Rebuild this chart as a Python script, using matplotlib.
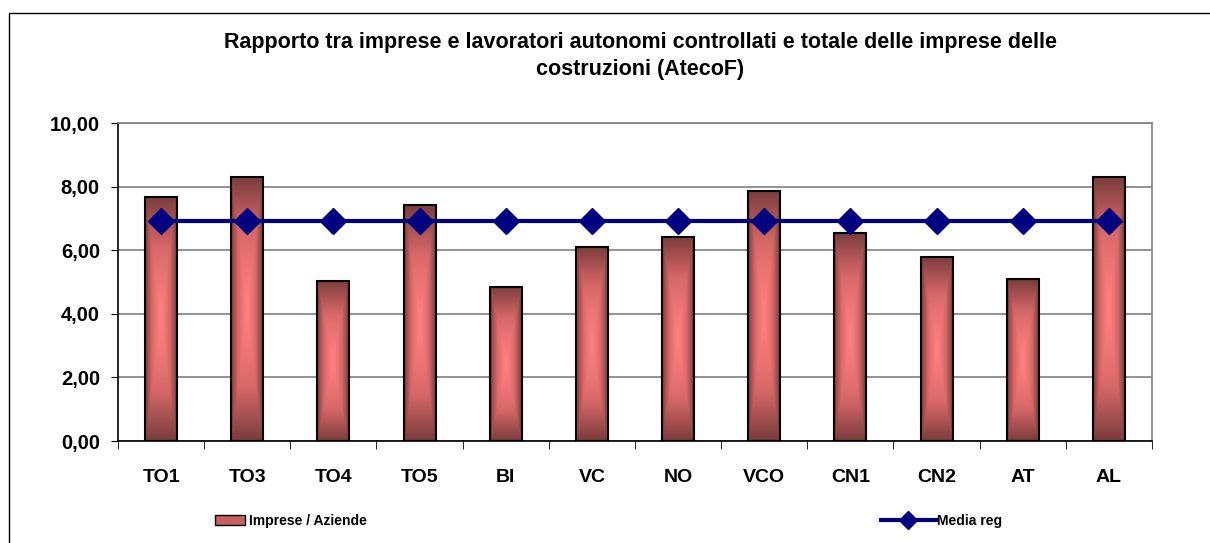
import numpy as np
import matplotlib.pyplot as plt
from matplotlib.patches import Rectangle
from matplotlib.lines import Line2D
from matplotlib.colors import LinearSegmentedColormap

plt.rcParams['font.family'] = ['Liberation Sans', 'DejaVu Sans']

# -----------------------------
# Data
# -----------------------------
categories = ["TO1", "TO3", "TO4", "TO5", "BI", "VC", "NO", "VCO", "CN1", "CN2", "AT", "AL"]
imprese = [7.68, 8.31, 5.04, 7.42, 4.85, 6.11, 6.43, 7.87, 6.55, 5.80, 5.09, 8.31]
media_reg = [6.93] * len(categories)

title = "Rapporto tra imprese e lavoratori autonomi controllati e totale delle imprese delle\ncostruzioni (AtecoF)"
y_ticks = [0, 2, 4, 6, 8, 10]

# -----------------------------
# Figure
# -----------------------------
fig = plt.figure(figsize=(12.1, 5.43), dpi=100)
ax = fig.add_axes([118 / 1210, 1 - 441 / 543, 1034 / 1210, 318 / 543])

# outer chart frame
fig.patches.append(Rectangle((9 / 1210, -0.1), 1.2, 1 - 13 / 543 + 0.1,
                             transform=fig.transFigure, fill=False,
                             edgecolor="black", linewidth=1.0))

x = np.arange(len(categories))
bar_w = 0.37

# gradient bars: dark edges, pink centre
cmap = LinearSegmentedColormap.from_list("bar", ["#ff8080", "#d86868", "#7a3c3c"])
u = np.linspace(-1, 1, 60)
v = np.linspace(-1, 1, 200)
U, V = np.meshgrid(u, v)
grad = np.maximum(np.abs(U) ** 1.2, np.abs(V) ** 1.3)

bars = ax.bar(x, imprese, width=bar_w, color="none", edgecolor="black",
              linewidth=1.5, zorder=3)
for b in bars:
    x0, y0 = b.get_x(), b.get_y()
    w, h = b.get_width(), b.get_height()
    ax.imshow(grad, cmap=cmap, extent=[x0, x0 + w, y0, y0 + h],
              aspect="auto", origin="lower", zorder=2, vmin=0, vmax=1)

ax.plot(x, media_reg, color="#000080", linewidth=3, marker="D", markersize=13,
        zorder=4)

ax.set_xlim(-0.5, len(categories) - 0.5)
ax.set_ylim(0, 10)
ax.set_yticks(y_ticks)
ax.set_yticklabels([f"{t:.2f}".replace(".", ",") for t in y_ticks],
                   fontsize=14.5, fontweight="bold")
ax.set_xticks(x)
ax.set_xticklabels(categories, fontsize=14, fontweight="bold")
ax.tick_params(axis="x", length=0, pad=20)
ax.set_xticks(np.arange(-0.5, len(categories)), minor=True)
ax.tick_params(axis="x", which="minor", length=6, direction="out", color="black")
ax.tick_params(axis="y", length=5, direction="out", color="black", pad=8)

ax.yaxis.grid(True, color="#808080", linewidth=1.2, zorder=1)
ax.set_axisbelow(True)
for s in ["top", "right"]:
    ax.spines[s].set_color("#808080")
    ax.spines[s].set_linewidth(1.2)
for s in ["left", "bottom"]:
    ax.spines[s].set_color("black")
    ax.spines[s].set_linewidth(1.2)

fig.text(640 / 1210, 1 - 56 / 543, title, ha="center", va="center",
         fontsize=15.5, fontweight="bold", linespacing=1.4)

# -----------------------------
# Legends
# -----------------------------
bar_handle = Rectangle((0, 0), 1, 1, facecolor="#c86060", edgecolor="black")
line_handle = Line2D([], [], color="#000080", linewidth=3, marker="D", markersize=9)
fig.legend([bar_handle], ["Imprese / Aziende"], loc="center left",
           bbox_to_anchor=(202 / 1210, 1 - 521 / 543), frameon=False,
           prop={"weight": "bold", "size": 10}, handlelength=2.2,
           handletextpad=0.3)
fig.legend([line_handle], ["Media reg"], loc="center left",
           bbox_to_anchor=(868 / 1210, 1 - 521 / 543), frameon=False,
           prop={"weight": "bold", "size": 10}, handlelength=4.0,
           handletextpad=0.1)

fig.savefig("out.png", dpi=100)
